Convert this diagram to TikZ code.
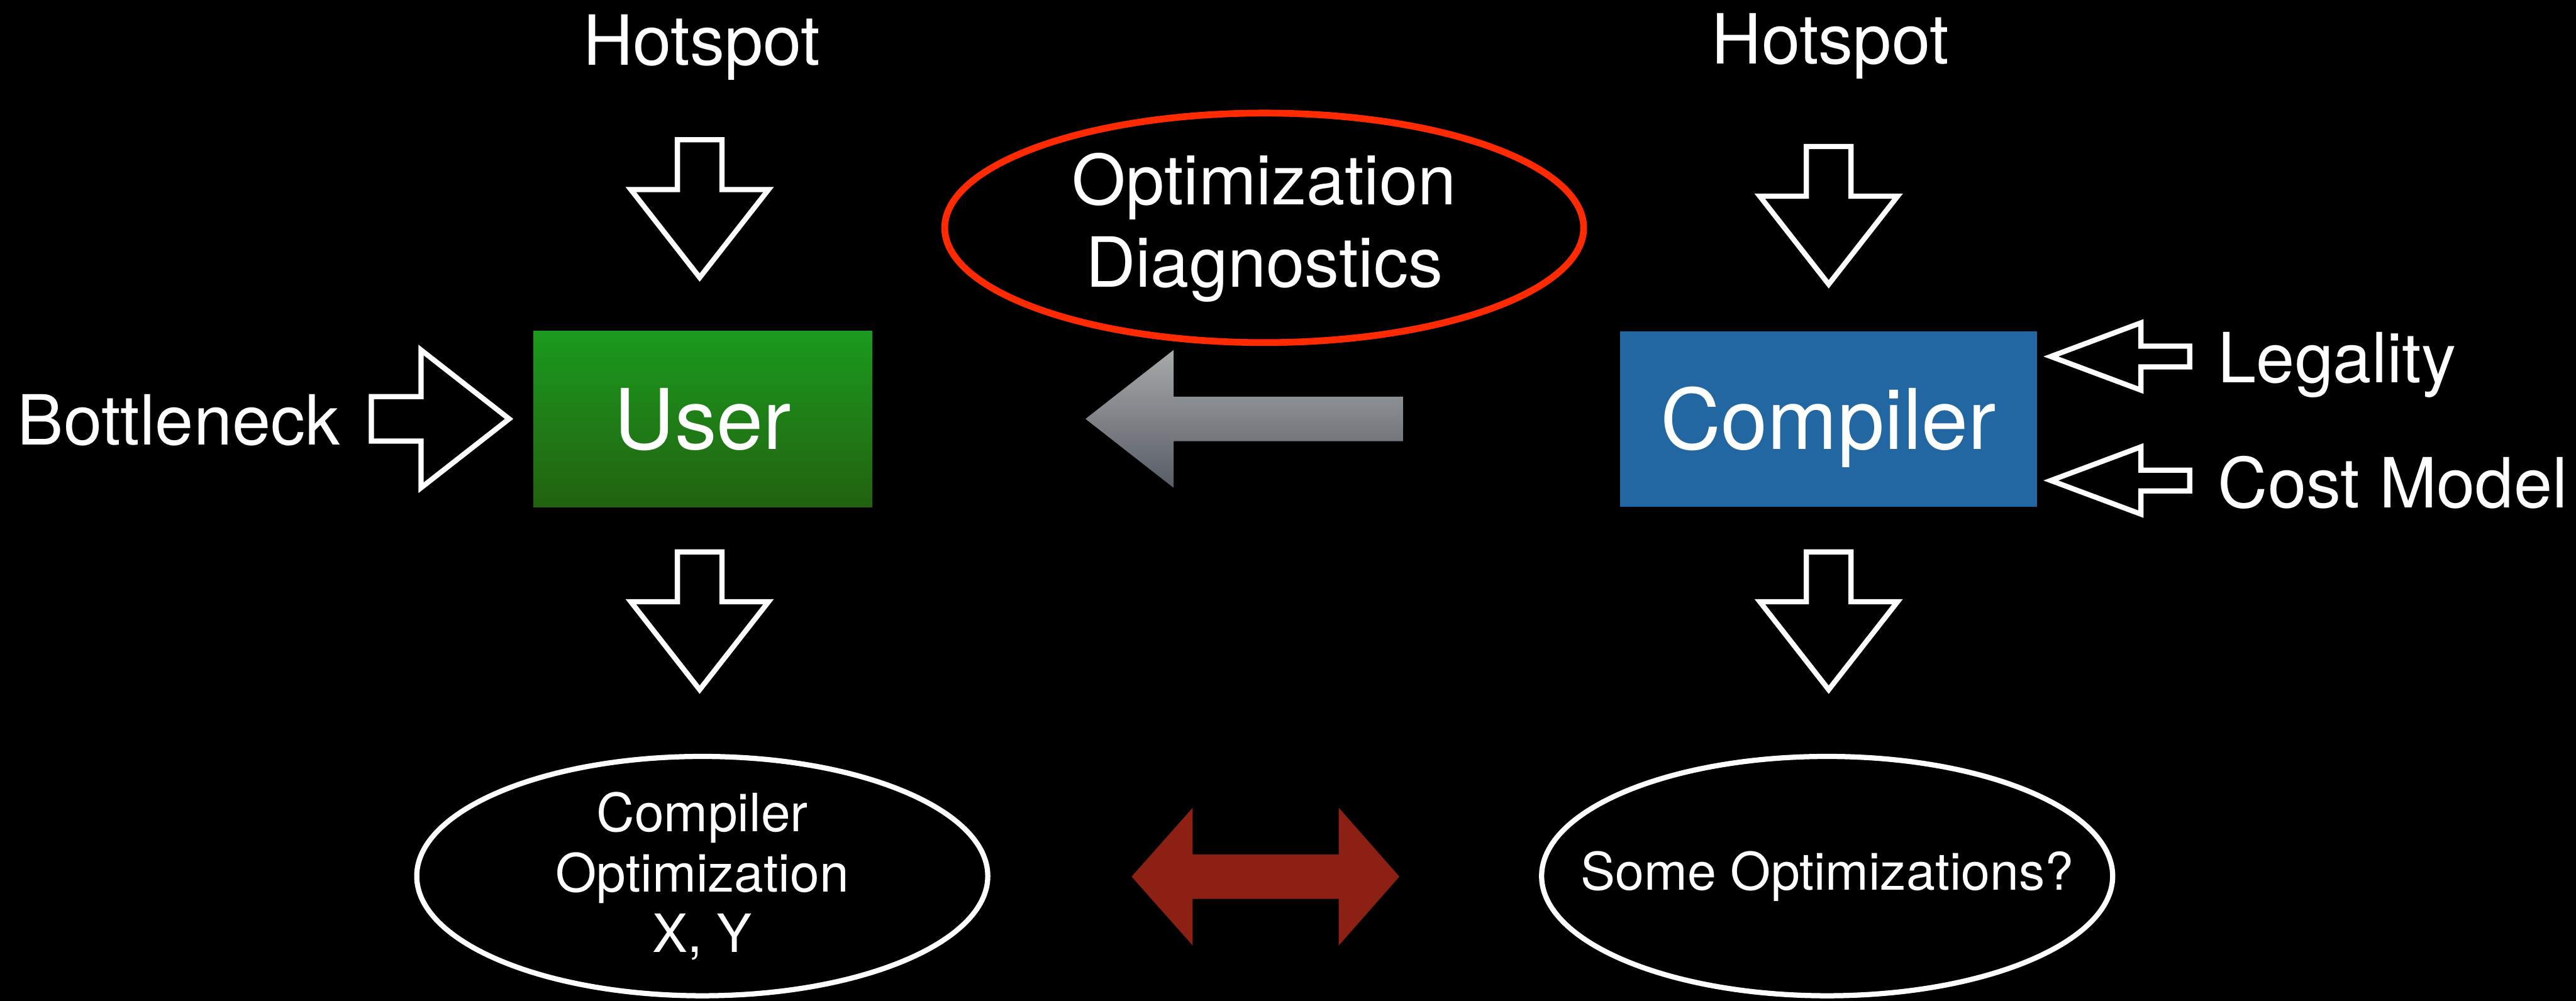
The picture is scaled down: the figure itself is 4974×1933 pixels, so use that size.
\documentclass[tikz,border=0pt]{standalone}
\usepackage{fontspec}
\setmainfont{TeX Gyre Heros}
\usetikzlibrary{shapes.geometric}
\definecolor{diagred}{HTML}{FF2A00}
\definecolor{arrowred}{HTML}{8C2015}
\definecolor{usergreenA}{HTML}{1B9A1E}
\definecolor{usergreenB}{HTML}{22620F}
\definecolor{compblue}{HTML}{2267A2}
\definecolor{greyA}{HTML}{A7AAA9}
\definecolor{greyB}{HTML}{585C66}
\begin{document}
\begin{tikzpicture}[x=0.01cm, y=-0.01cm,
  lbl/.style={text=white, inner sep=0pt, font=\fontsize{38}{45.2}\selectfont},
  boxnode/.style={rectangle, inner sep=0pt, minimum height=3.39cm, text=white,
    font=\fontsize{46}{52}\selectfont, text height=33pt, text depth=0pt},
  ovalnode/.style={ellipse, inner sep=0pt, align=center, text=white},
  bigarrow/.pic={\draw[white, line width=2.85pt, line join=miter]
    (-43,0) -- (43,0) -- (43,96) -- (133,96) -- (0,266) -- (-133,96) -- (-43,96) -- cycle;},
  smallarrow/.pic={\draw[white, line width=2.85pt, line join=miter]
    (-20,0) -- (20,0) -- (20,94) -- (65,94) -- (0,268) -- (-65,94) -- (-20,94) -- cycle;}
]
% background
\fill[black] (0,0) rectangle (4974,1933);

% texts
\node[lbl, anchor=base] (hot1) at (1355,126) {Hotspot};
\node[lbl, anchor=base] (hot2) at (3534,123) {Hotspot};
\node[lbl, anchor=base west] (bottleneck) at (33,859) {Bottleneck};
\node[lbl, anchor=base west] (legality) at (4282,739) {Legality};
\node[lbl, anchor=base west] (costmodel) at (4282,980) {Cost Model};

% boxes
\node[boxnode, minimum width=6.54cm, top color=usergreenA, bottom color=usergreenB] (user) at (1357,809.5) {User};
\node[boxnode, minimum width=8.05cm, fill=compblue] (compiler) at (3530.5,809.5) {Compiler};

% ellipses
\node[ovalnode, draw=diagred, line width=3.7pt, minimum width=12.33cm, minimum height=4.43cm,
  font=\fontsize{38}{45.2}\selectfont] (diag) at (2441,440) {Optimization\\Diagnostics};
\node[ovalnode, draw=white, line width=2.85pt, minimum width=11.02cm, minimum height=4.62cm,
  font=\fontsize{29}{33}\selectfont] (optxy) at (1356,1692) {Compiler\\Optimization\\X, Y};
\node[ovalnode, draw=white, line width=2.85pt, minimum width=11.02cm, minimum height=4.62cm,
  font=\fontsize{28.5}{33}\selectfont] (someopt) at (3528,1692) {\makebox[0pt][c]{Some Optimizations?}};

% hollow arrows
\pic (a1) at (1351,270) {bigarrow};
\pic (a2) at (3531,283) {bigarrow};
\pic (a3) at (1351,1066) {bigarrow};
\pic (a4) at (3531,1066) {bigarrow};
\pic[rotate=90] (a5) at (717,809) {bigarrow};
\pic[rotate=-90] (a6) at (4228,688.5) {smallarrow};
\pic[rotate=-90] (a7) at (4228,928) {smallarrow};

% grey arrow
\path[top color=greyA, bottom color=greyB]
  (2096,809) -- (2266,676) -- (2266,766) -- (2709,766) -- (2709,852)
  -- (2266,852) -- (2266,942) -- cycle;

% red double arrow
\fill[arrowred]
  (2185,1693) -- (2303,1560) -- (2303,1650) -- (2585,1650) -- (2585,1560)
  -- (2702,1693) -- (2585,1826) -- (2585,1736) -- (2303,1736) -- (2303,1826) -- cycle;
\end{tikzpicture}
\end{document}
